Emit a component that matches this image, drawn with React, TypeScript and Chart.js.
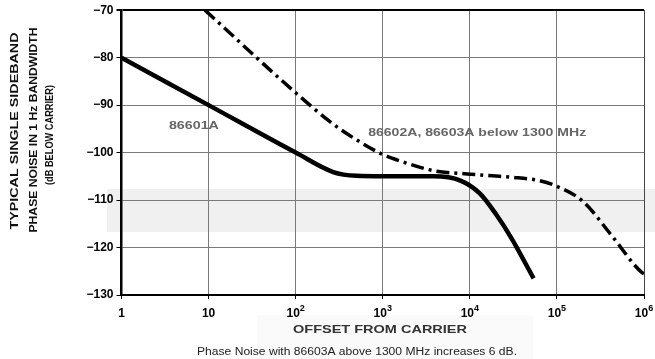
import React, { useEffect, useRef } from "react";
import { Chart, registerables } from "chart.js";
Chart.register(...registerables);

const offsetDecades = [1, 10, 100, 1000, 10000, 100000, 1000000];
const xTickBase = ["1", "10", "10", "10", "10", "10", "10"];
const xTickExp = ["", "", "2", "3", "4", "5", "6"];
const yTicks = [-130, -120, -110, -100, -90, -80, -70];

const s86601Freq = [1, 10, 100, 270, 500, 1000, 3800, 7800, 13000, 20000, 30000, 54000];
const s86601Noise = [-80, -90, -100, -104.1, -104.9, -105, -105, -105.9, -108.6, -113, -118, -126.5];

const s86602Freq = [9.1, 100, 270, 510, 1000, 1600, 3800, 9300, 22000, 30000, 59000, 91000, 200000, 410000, 950000, 1000000];
const s86602Noise = [-70, -87.4, -94, -97.4, -100.4, -101.8, -103.8, -104.5, -105, -105.2, -105.8, -106.8, -110.3, -117.1, -125.3, -125.5];

const label1 = "86601A";
const label2 = "86602A, 86603A below 1300 MHz";
const yTitle = ["TYPICAL SINGLE SIDEBAND", "PHASE NOISE IN 1 Hz BANDWIDTH", "(dB BELOW CARRIER)"];
const xTitle = "OFFSET FROM CARRIER";
const footnote = "Phase Noise with 86603A above 1300 MHz increases 6 dB.";

const FONT = '"Liberation Sans", Arial, sans-serif';

function fitText(ctx: CanvasRenderingContext2D, text: string, x: number, cy: number, width: number, align: "center" | "left") {
  const w = ctx.measureText(text).width;
  ctx.save();
  ctx.translate(x, cy);
  ctx.scale(width / w, 1);
  ctx.textAlign = align;
  ctx.textBaseline = "middle";
  ctx.fillText(text, 0, 0);
  ctx.restore();
}

const decorPlugin = {
  id: "decor",
  beforeDraw(chart: any) {
    const ctx = chart.ctx;
    ctx.save();
    ctx.fillStyle = "#fafafa";
    ctx.fillRect(257, 315, 276, 44);
    ctx.fillStyle = "#f0f0f0";
    ctx.fillRect(107, 189, 548, 43);
    ctx.restore();
  },
  afterDraw(chart: any) {
    const ctx = chart.ctx;
    const xs = chart.scales.x;
    const ys = chart.scales.y;
    ctx.save();
    // x tick labels with superscripts
    ctx.fillStyle = "#000";
    offsetDecades.forEach((v, i) => {
      const px = xs.getPixelForValue(v);
      ctx.font = `bold 12px ${FONT}`;
      const bw = ctx.measureText(xTickBase[i]).width;
      ctx.font = `bold 9px ${FONT}`;
      const ew = xTickExp[i] ? ctx.measureText(xTickExp[i]).width : 0;
      const left = px - (bw + ew) / 2;
      ctx.textAlign = "left";
      ctx.textBaseline = "middle";
      ctx.font = `bold 12px ${FONT}`;
      ctx.fillText(xTickBase[i], left, 314);
      if (xTickExp[i]) {
        ctx.font = `bold 9px ${FONT}`;
        ctx.fillText(xTickExp[i], left + bw, 309);
      }
    });
    // y title
    ctx.fillStyle = "#111";
    ctx.font = `bold 11px ${FONT}`;
    const cols = [15, 34, 50];
    const centers = [131, 130, 135];
    const lens = [197, 205, 100];
    yTitle.forEach((t, i) => {
      ctx.save();
      ctx.translate(cols[i], centers[i]);
      ctx.rotate(-Math.PI / 2);
      fitText(ctx, t, 0, 0, lens[i], "center");
      ctx.restore();
    });
    // x title and footnote
    ctx.fillStyle = "#333";
    ctx.font = `bold 11px ${FONT}`;
    fitText(ctx, xTitle, 380, 330, 174, "center");
    ctx.fillStyle = "#222";
    ctx.font = `10px ${FONT}`;
    fitText(ctx, footnote, 357, 352, 320, "center");
    // curve labels
    ctx.fillStyle = "#666";
    ctx.font = `bold 11px ${FONT}`;
    fitText(ctx, label1, xs.getPixelForValue(3.5), ys.getPixelForValue(-94.3), 50, "left");
    fitText(ctx, label2, xs.getPixelForValue(680), ys.getPixelForValue(-95.9), 218, "left");
    ctx.restore();
  },
};

export default function App() {
  const ref = useRef<HTMLCanvasElement>(null);
  useEffect(() => {
    if (!ref.current) return;
    const chart = new Chart(ref.current, {
      type: "line",
      data: {
        datasets: [
          {
            label: label1,
            data: s86601Freq.map((f, i) => ({ x: f, y: s86601Noise[i] })),
            borderColor: "#000",
            borderWidth: 4.5,
            pointRadius: 0,
            cubicInterpolationMode: "monotone",
          },
          {
            label: label2,
            data: s86602Freq.map((f, i) => ({ x: f, y: s86602Noise[i] })),
            borderColor: "#000",
            borderWidth: 3.5,
            borderDash: [13, 5, 3, 5],
            pointRadius: 0,
            cubicInterpolationMode: "monotone",
          },
        ],
      },
      options: {
        animation: false,
        responsive: false,
        layout: { padding: { left: 0, top: 3, right: 11, bottom: 0 } },
        plugins: { legend: { display: false }, tooltip: { enabled: false } },
        scales: {
          x: {
            type: "logarithmic",
            min: 1,
            max: 1000000,
            afterBuildTicks: (scale: any) => {
              scale.ticks = offsetDecades.map((v) => ({ value: v }));
            },
            afterFit: (scale: any) => {
              scale.height = 64;
            },
            ticks: {
              autoSkip: false,
              maxRotation: 0,
              callback: () => "",
            },
            grid: {
              color: (c: any) => (c.tick && c.tick.value === 1000000 ? "#444" : "#7a7a7a"),
              lineWidth: 1,
              tickLength: 4,
              tickColor: "#000",
            },
            border: { color: "#000", width: 2 },
          },
          y: {
            type: "linear",
            min: -130,
            max: -70,
            afterBuildTicks: (scale: any) => {
              scale.ticks = yTicks.map((v) => ({ value: v }));
            },
            afterFit: (scale: any) => {
              scale.width = 121.5;
            },
            ticks: {
              padding: 3,
              color: "#000",
              font: { family: FONT, size: 12, weight: "bold" },
              callback: (v: any) => "−" + Math.abs(Number(v)),
            },
            grid: {
              color: (c: any) => (c.tick && c.tick.value === -70 ? "#000" : "#7a7a7a"),
              lineWidth: (c: any) => (c.tick && c.tick.value === -70 ? 2 : 1),
              tickLength: 5,
              tickColor: "#000",
            },
            border: { color: "#000", width: 2.5 },
          },
        },
      },
      plugins: [decorPlugin],
    } as any);
    return () => chart.destroy();
  }, []);
  return (
    <div style={{ position: "absolute", left: 0, top: 0, width: 655, height: 359, background: "#fff" }}>
      <canvas ref={ref} width={655} height={359} />
    </div>
  );
}
